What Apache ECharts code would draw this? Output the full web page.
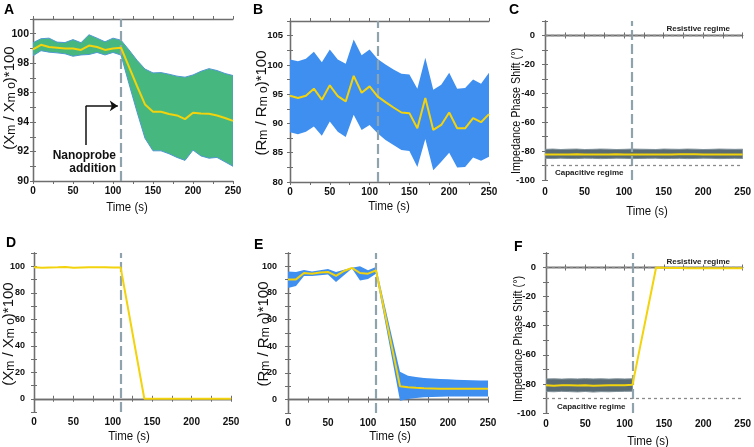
<!DOCTYPE html>
<html><head><meta charset="utf-8">
<script src="https://cdn.jsdelivr.net/npm/echarts@6/dist/echarts.min.js"></script>
<style>html,body{margin:0;padding:0;background:#fff}#c{width:754px;height:447px}</style>
</head><body><div id="c"></div>
<script>
// ---------- DATA ----------
const timeSec = [0,10,20,30,40,50,60,70,80,90,100,110,120,130,140,150,160,170,180,190,200,210,220,230,240,250];
const xTickValues = [0,50,100,150,200,250];
const nanoprobeTime = 110;

const meanA  = [98.93,99.25,99.10,99.05,99.00,99.00,98.90,99.20,99.10,98.90,99.00,99.05,97.75,96.45,95.20,94.70,94.70,94.55,94.45,94.20,94.63,94.59,94.57,94.45,94.28,94.08];
const upperA = [99.39,99.66,99.70,99.43,99.40,99.60,99.39,99.93,99.70,99.45,99.70,99.56,98.90,98.20,97.60,97.34,97.36,97.25,97.12,97.05,97.20,97.45,97.63,97.50,97.30,97.16];
const lowerA = [98.50,98.85,98.75,98.70,98.64,98.47,98.56,98.59,98.73,98.56,98.73,98.55,96.60,94.70,92.90,92.05,92.05,91.85,91.60,91.40,92.10,91.70,91.55,91.60,91.30,91.00];
const yTickValuesA = [90,92,94,96,98,100];
const yTickTextA   = ['90','92','94','98','98','100'];

const meanB  = [94.73,94.34,94.73,95.94,94.05,96.51,94.68,93.76,98.12,95.25,96.33,94.62,93.65,92.73,91.87,91.76,89.18,94.34,88.89,89.75,91.87,89.18,89.18,90.90,90.21,91.59];
const upperB = [100.93,100.64,101.04,102.24,100.46,102.64,100.93,100.18,104.36,101.66,102.64,101.00,100.07,99.20,98.47,98.35,95.94,101.22,95.77,96.63,98.64,95.94,96.06,97.49,96.80,98.64];
const lowerB = [88.49,88.15,88.60,89.46,87.91,90.32,88.60,87.68,91.47,88.89,89.75,88.32,87.17,86.30,85.45,85.28,82.58,87.34,82.00,83.44,84.99,82.47,82.58,84.20,83.62,84.30];
const yTickValuesB = [80,85,90,95,100,105];

const meanC  = [-82.4,-82.3,-82.4,-82.3,-82.2,-82.3,-82.4,-82.3,-82.3,-82.2,-82.3,-82.3,-82.4,-82.3,-82.3,-82.4,-82.3,-82.2,-82.1,-82.2,-82.3,-82.3,-82.4,-82.3,-82.3,-82.3];
const upperC = [-78.8,-78.6,-78.9,-78.7,-78.6,-78.9,-78.8,-78.6,-78.7,-78.9,-78.8,-78.6,-78.7,-78.8,-78.9,-78.6,-78.7,-78.8,-78.6,-78.7,-78.9,-78.8,-78.6,-78.7,-78.8,-78.7];
const lowerC = [-85.0,-85.2,-84.9,-85.1,-85.2,-84.9,-85.0,-85.2,-85.1,-84.9,-85.0,-85.2,-85.1,-85.0,-84.9,-85.2,-85.1,-85.0,-85.2,-85.1,-84.9,-85.0,-85.2,-85.1,-85.0,-85.1];
const yTickValuesPhase = [-100,-80,-60,-40,-20,0];
const regimeLevels = [0,-90];

const meanD  = [99.3,98.9,99.1,99.2,99.4,98.8,99.1,99.3,99.3,99.2,99.1,99.0,66.0,33.0,0,0,0,0,0,0,0,0,0,0,0,0];
const yTickValuesDE = [0,20,40,60,80,100];

const meanE  = [90.2,90.2,95.0,94.5,95.3,95.8,92.8,96.5,98.8,95.0,94.5,97.0,68.0,39.0,10.1,9.3,8.9,8.6,8.4,8.2,8.1,8.1,8.1,8.1,8.1,8.1];
const upperE = [96.2,95.8,97.3,96.2,97.0,98.0,95.8,97.5,99.0,100.0,97.0,99.5,73.0,47.0,21.0,18.0,17.0,16.2,15.8,15.5,15.3,15.0,14.8,14.6,14.4,14.3];
const lowerE = [83.8,85.3,92.8,92.8,93.3,93.8,88.3,93.3,98.3,89.3,90.5,94.5,63.0,31.0,-0.8,0.5,1.2,1.8,2.0,2.2,2.3,2.3,2.3,2.3,2.3,2.3];

const meanF  = [-81.0,-81.2,-81.0,-80.9,-81.1,-81.0,-81.3,-81.1,-81.0,-80.9,-81.0,-80.6,-53.5,-26.8,0,-0.2,-0.3,-0.3,-0.4,-0.4,-0.4,-0.4,-0.4,-0.4,-0.4,-0.4];
const timeBandF  = [0,10,20,30,40,50,60,70,80,90,100,110,110];
const upperF = [-76.6,-76.5,-76.7,-76.5,-76.6,-76.4,-76.6,-76.5,-76.7,-76.5,-76.6,-76.5,-80.6];
const lowerF = [-85.2,-85.4,-85.1,-85.3,-85.5,-85.2,-85.6,-85.3,-85.4,-85.2,-85.1,-85.0,-80.6];

// ---------- STYLE ----------
const FONT = '"Liberation Sans", Arial, sans-serif';
const AXIS = '#6e6e6e';
const YELLOW = '#f2d30c';
const DASH = '#8fa3ad';
const GREEN = '#46b87f';
const BLUE = '#3e8ff0';
const SLATE = '#5b6b74';

const zip = (xs, ys) => xs.map((x, i) => [x, ys[i]]);

const panels = [
  { grid:{left:33,top:19,width:200,height:162}, y:{min:90,max:101,step:1}, yTicks:yTickValuesA, yText:yTickTextA, yMargin:4, yFont:10.5, xMargin:5 },
  { grid:{left:290,top:21,width:199,height:161}, y:{min:80,max:107.5,step:2.5}, yTicks:yTickValuesB, yMargin:7, yFont:9.5, xMargin:5 },
  { grid:{left:545,top:21,width:199,height:159}, y:{min:-100,max:10,step:10}, yTicks:yTickValuesPhase, yMargin:10, yFont:9.5, xMargin:7 },
  { grid:{left:34,top:253,width:197,height:159}, y:{min:-10,max:110,step:10}, yTicks:yTickValuesDE, yMargin:9, yFont:9, xMargin:5 },
  { grid:{left:288,top:253,width:200,height:160}, y:{min:-10,max:110,step:10}, yTicks:yTickValuesDE, yMargin:11, yFont:9, xMargin:5 },
  { grid:{left:546,top:253,width:199,height:160}, y:{min:-100,max:10,step:10}, yTicks:yTickValuesPhase, yMargin:10, yFont:9.5, xMargin:6 }
];

const tickStyle = { length: 3, lineStyle: { color: AXIS, width: 1 } };
const lineStyleAxis = { lineStyle: { color: AXIS, width: 1.3 } };
const labelBase = { fontSize: 10, fontWeight: 'bold', color: '#111', fontFamily: FONT };

const grids = [], xAxes = [], yAxes = [];
panels.forEach((p, i) => {
  grids.push(Object.assign({ containLabel: false }, p.grid));
  xAxes.push({ gridIndex:i, type:'value', min:0, max:250, interval:25, position:'bottom',
    axisLine:lineStyleAxis, axisTick:tickStyle, splitLine:{show:false},
    axisLabel:Object.assign({}, labelBase, { margin:p.xMargin, formatter:v => xTickValues.includes(v) ? String(v) : '' }) });
  xAxes.push({ gridIndex:i, type:'value', min:0, max:250, interval:25, position:'top',
    axisLine:lineStyleAxis, axisTick:tickStyle, splitLine:{show:false}, axisLabel:{show:false} });
  yAxes.push({ gridIndex:i, type:'value', min:p.y.min, max:p.y.max, interval:p.y.step, position:'left',
    axisLine:Object.assign({show:true}, lineStyleAxis), axisTick:Object.assign({show:true}, tickStyle), splitLine:{show:false},
    axisLabel:Object.assign({}, labelBase, { fontSize:p.yFont, margin:p.yMargin, formatter:v => {
      const k = p.yTicks.findIndex(t => Math.abs(t - v) < 1e-6);
      return k < 0 ? '' : (p.yText ? p.yText[k] : String(v));
    } }) });
  yAxes.push({ gridIndex:i, type:'value', min:p.y.min, max:p.y.max, interval:p.y.step, position:'right',
    axisLine:Object.assign({show:true}, lineStyleAxis), axisTick:Object.assign({show:true}, tickStyle), splitLine:{show:false},
    axisLabel:{show:false} });
});

const series = [];
function band(i, xs, lower, upper, fill, edge) {
  series.push({ type:'custom', xAxisIndex:2*i, yAxisIndex:2*i, data:zip(xs, upper), silent:true, clip:true, z:2,
    renderItem:(params, api) => {
      if (params.dataIndex !== 0) return null;
      const top = xs.map((x, k) => api.coord([x, upper[k]]));
      const bot = xs.map((x, k) => api.coord([x, lower[k]])).reverse();
      return { type:'polygon', shape:{ points: top.concat(bot) },
        style:{ fill: fill, stroke: edge || null, lineWidth: edge ? 1 : 0 } };
    } });
}
function mean(i, ys, withRegime) {
  const ml = [{ xAxis: nanoprobeTime, lineStyle:{ color:DASH, width:2.2, type:[10,4] } }];
  if (withRegime) regimeLevels.forEach(v => ml.push({ yAxis: v, lineStyle:{ color:'#8a8a8a', width:1.3, type:[3,3] } }));
  series.push({ type:'line', xAxisIndex:2*i, yAxisIndex:2*i, data:zip(timeSec, ys), symbol:'none', silent:true,
    lineStyle:{ color:YELLOW, width:2 }, z:4,
    markLine:{ silent:true, symbol:'none', label:{show:false}, data:ml, z:3 } });
}

band(0, timeSec, lowerA, upperA, GREEN, '#4f98d2');
mean(0, meanA, false);
band(1, timeSec, lowerB, upperB, BLUE, null);
mean(1, meanB, false);
band(2, timeSec, lowerC, upperC, SLATE, '#7f9099');
mean(2, meanC, true);
mean(3, meanD, false);
band(4, timeSec, lowerE, upperE, BLUE, null);
mean(4, meanE, false);
band(5, timeBandF, lowerF, upperF, SLATE, '#7f9099');
mean(5, meanF, true);

// annotation arrow in panel A
series.push({ type:'line', xAxisIndex:0, yAxisIndex:0, data:[], silent:true, z:6,
  markLine:{ silent:true, label:{show:false}, symbolSize:8, lineStyle:{ color:'#111', width:1.5, type:'solid' },
    data:[ [ {coord:[66,92.45], symbol:'none'}, {coord:[66,95.1], symbol:'none'} ],
           [ {coord:[66,95.1], symbol:'none'}, {coord:[106,95.1], symbol:'arrow'} ] ] } });

const letter = (t, x, y) => ({ type:'text', left:x, top:y, silent:true, z:100,
  style:{ text:t, font:'bold 14px ' + FONT, fill:'#000' } });
const regime = (t, x, y, align) => ({ type:'text', x:x, y:y, silent:true, z:100,
  style:{ text:t, font:'bold 8px ' + FONT, fill:'#222', align:align, verticalAlign:'middle' } });
const xName = (x, y) => ({ type:'text', x:x, y:y, scaleX:0.85, silent:true, z:100,
  style:{ text:'Time (s)', font:'13.5px ' + FONT, fill:'#111', align:'center', verticalAlign:'middle' } });
const yNameRich = (sym, x, y) => ({ type:'text', x:x, y:y, rotation:Math.PI/2, silent:true, z:100,
  style:{ text:'(' + sym + '{s|m} / ' + sym + '{s|m o})*100', font:'15px ' + FONT, fill:'#111', align:'center', verticalAlign:'middle',
    rich:{ s:{ font:'12px ' + FONT, fill:'#111', verticalAlign:'bottom' } } } });
const yNamePhase = (x, y) => ({ type:'text', x:x, y:y, rotation:Math.PI/2, scaleX:0.8, silent:true, z:100,
  style:{ text:'Impedance Phase Shift (°)', font:'13.5px ' + FONT, fill:'#111', align:'center', verticalAlign:'middle' } });

const graphic = [
  letter('A', 4, 3), letter('B', 253, 3), letter('C', 509, 3),
  letter('D', 6, 236), letter('E', 254, 238), letter('F', 514, 240),
  regime('Resistive regime', 730, 29, 'right'), regime('Capacitive regime', 555, 173, 'left'),
  regime('Resistive regime', 730, 262, 'right'), regime('Capacitive regime', 557, 407, 'left'),
  xName(127, 207), xName(389, 206), xName(647, 211), xName(129, 436), xName(390, 436), xName(648, 441),
  yNameRich('X', 10, 98), yNameRich('R', 262, 103), yNamePhase(516, 111),
  yNameRich('X', 9, 334), yNameRich('R', 264, 334), yNamePhase(518, 339),
  { type:'text', x:116, y:149, silent:true, z:100,
    style:{ text:'Nanoprobe\naddition', font:'bold 12px ' + FONT, fill:'#111', align:'right', lineHeight:13 } }
];

const chart = echarts.init(document.getElementById('c'), null, { renderer:'canvas' });
chart.setOption({ animation:false, backgroundColor:'#fff', grid:grids, xAxis:xAxes, yAxis:yAxes, series:series, graphic:graphic });
</script></body></html>
